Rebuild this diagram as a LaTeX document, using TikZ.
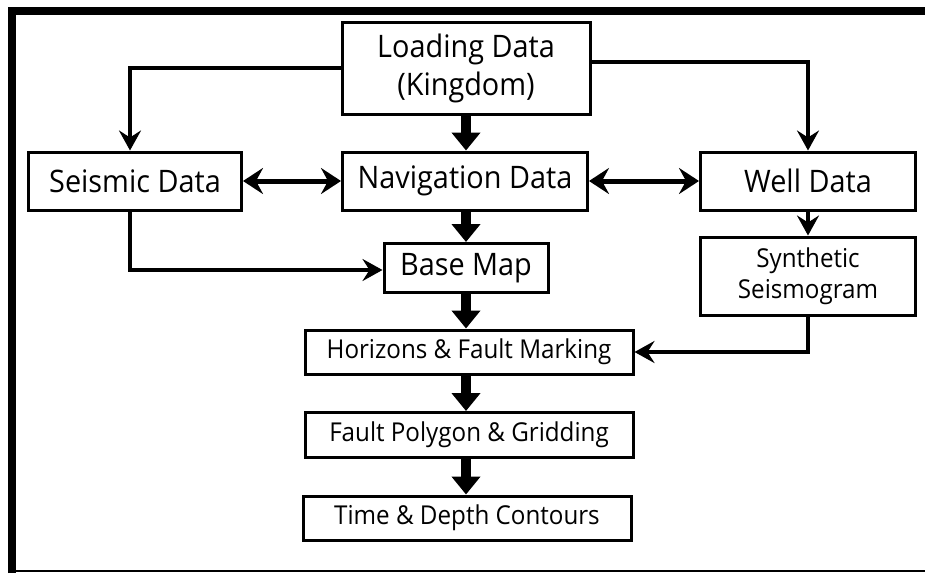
\documentclass[tikz,border=0pt]{standalone}
\usepackage{fontspec}
\setmainfont[FakeStretch=0.93]{Open Sans}
\usetikzlibrary{arrows.meta}
\begin{document}
\begin{tikzpicture}[x=1pt, y=-1pt,
    box/.style={draw, line width=3pt, inner sep=0pt, align=center, font=\fontsize{31}{38}\selectfont},
    smallbox/.style={box, font=\fontsize{26}{31}\selectfont},
    fat/.style={line width=10pt, -{Triangle[length=18pt, width=28pt]}},
    thin/.style={line width=4pt, -{Stealth[length=20pt, width=22pt, inset=7pt]}},
    both/.style={line width=5pt, {Stealth[length=20pt, width=26pt, inset=7pt]}-{Stealth[length=20pt, width=26pt, inset=7pt]}}]
    \useasboundingbox (0,0) rectangle (925,573);
    \fill[white] (0,0) rectangle (925,573);
    \draw[line width=8pt] (12,573) -- (12,10.5) -- (925,10.5); \draw[line width=2pt] (12,571) -- (925,571);
    % boxes
    \node[box, minimum width=248pt, minimum height=92pt] (load) at (466,68) {Loading Data\\(Kingdom)};
    \node[box, minimum width=213pt, minimum height=58pt] (seis) at (135,181) {Seismic Data};
    \node[box, minimum width=245pt, minimum height=58pt] (nav) at (465,181) {Navigation Data};
    \node[box, minimum width=215pt, minimum height=58pt] (well) at (808,181) {Well Data};
    \node[box, minimum width=164pt, minimum height=49pt] (base) at (466,268) {Base Map};
    \node[smallbox, minimum width=215pt, minimum height=78pt] (syn) at (808,276) {Synthetic\\Seismogram};
    \node[smallbox, minimum width=328pt, minimum height=44pt] (hor) at (469,352) {Horizons \& Fault Marking};
    \node[smallbox, minimum width=328pt, minimum height=45pt] (poly) at (469,435) {Fault Polygon \& Gridding};
    \node[smallbox, minimum width=328pt, minimum height=44pt] (time) at (467,518) {Time \& Depth Contours};
    % connectors
    \draw[thin] (load.west) -| ([xshift=-5pt]seis.north);
    \draw[thin] ([yshift=6pt]load.east) -| (well.north);
    \draw[fat] (load.south) -- (load.south |- nav.north);
    \draw[both] (seis.east) -- (nav.west);
    \draw[both] (nav.east) -- (well.west);
    \draw[fat] (base.north |- nav.south) -- (base.north);
    \draw[thin] ([xshift=-5pt]seis.south) |- ([yshift=-2pt]base.west);
    \draw[thin] (well.south) -- (syn.north);
    \draw[fat] (base.south) -- (base.south |- hor.north);
    \draw[thin] (syn.south) |- (hor.east);
    \draw[fat] (base.south |- hor.south) -- (base.south |- poly.north);
    \draw[fat] (base.south |- poly.south) -- (base.south |- time.north);
\end{tikzpicture}
\end{document}
